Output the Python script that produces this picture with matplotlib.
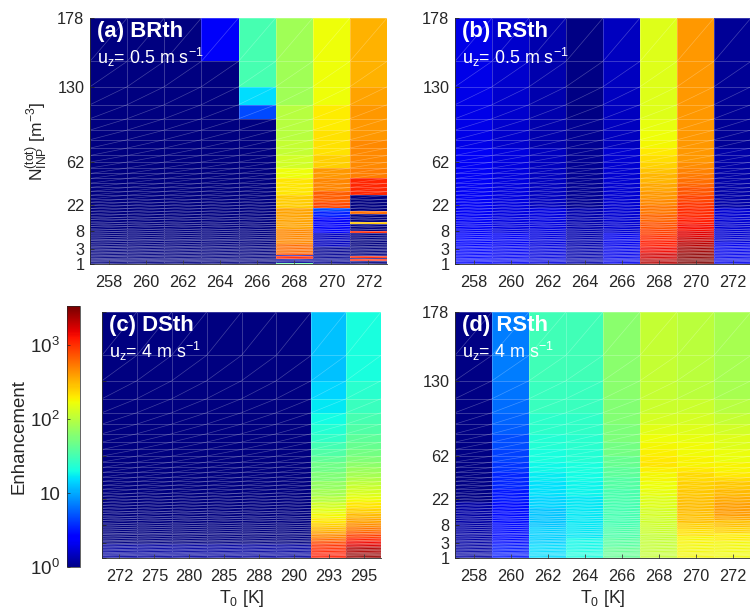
import numpy as np
import matplotlib
matplotlib.use('Agg')
import matplotlib.pyplot as plt
from matplotlib.colors import LogNorm
from matplotlib.collections import LineCollection

plt.rcParams['font.family'] = ['Liberation Sans', 'DejaVu Sans']
plt.rcParams['mathtext.fontset'] = 'custom'
plt.rcParams['mathtext.rm'] = 'Liberation Sans'
plt.rcParams['mathtext.it'] = 'Liberation Sans'
plt.rcParams['mathtext.bf'] = 'Liberation Sans:bold'

# y labels and the grid edge each one sits on (edge 1 = top of the panel)
n_labels = ['178', '130', '62', '22', '8', '3', '1']
n_edges = [1, 3, 10, 20, 30, 40, 51]
n_rows = 50

t_rth = ['258', '260', '262', '264', '266', '268', '270', '272']
t_dsth = ['272', '275', '280', '285', '288', '290', '293', '295']

# each column: (last row of the run, enhancement), rows counted from the top
dark = [(50, 1)]

a_cols = [
    dark, dark, dark,
    [(1, 2.4), (50, 1)],
    [(2, 34), (3, 16), (4, 5), (50, 1)],
    [(3, 84), (6, 105), (8, 118), (10, 135), (12, 182), (16, 225), (20, 280), (28, 400), (36, 500), (42, 640),
     (43, 800), (44, 1.5), (46, 1200), (49, 1.2), (50, 42)],
    [(3, 182), (5, 210), (8, 230), (10, 270), (12, 440), (15, 520), (18, 720), (20, 880),
     (21, 5), (23, 3.5), (30, 2.4), (38, 1.6), (50, 1.15)],
    [(2, 350), (3, 400), (6, 440), (10, 490), (12, 540), (16, 1190), (21, 1), (22, 650), (25, 1), (26, 300),
     (29, 1), (30, 1200), (44, 1), (45, 1200), (46, 1), (48, 1300), (50, 1)],
]

b_cols = [
    [(7, 2.1), (30, 2.3), (50, 2.8)],
    [(7, 1.75), (30, 1.95), (50, 2.3)],
    [(7, 1.4), (20, 1.6), (50, 2)],
    [(4, 1.05), (20, 1.15), (50, 1.4)],
    [(7, 1.6), (30, 1.8), (50, 2.2)],
    [(4, 155), (5, 170), (6, 182), (7, 190), (8, 215), (9, 240), (10, 265), (11, 295), (13, 340), (15, 390),
     (17, 440), (19, 500), (22, 580), (25, 680), (28, 800), (31, 950), (34, 1100), (38, 1300), (42, 1500),
     (46, 1900), (50, 2300)],
    [(9, 442), (10, 480), (11, 530), (12, 570), (13, 620), (14, 680), (16, 780), (18, 900), (20, 1020),
     (23, 1150), (26, 1300), (29, 1450), (32, 1700), (35, 2000), (38, 2300), (42, 2700), (46, 3000), (50, 3300)],
    [(7, 1.2), (20, 1.35), (35, 1.8), (50, 2.2)],
]

c_cols = [
    [(40, 1), (50, 1.25)], [(40, 1), (50, 1.25)], [(40, 1), (50, 1.25)],
    [(40, 1), (50, 1.25)], [(40, 1), (50, 1.25)], [(40, 1), (50, 1.25)],
    [(2, 13), (3, 15), (4, 18), (5, 21), (6, 24), (7, 28), (8, 33), (9, 38), (10, 44), (12, 52), (14, 62),
     (16, 74), (18, 88), (20, 104), (22, 135), (24, 165), (26, 190), (28, 225), (30, 270), (32, 330), (34, 400),
     (36, 500), (38, 640), (40, 850), (43, 1050), (46, 1200), (50, 1300)],
    [(2, 22), (3, 26), (4, 30), (5, 34), (6, 38), (7, 43), (8, 48), (9, 54), (10, 62), (11, 70), (12, 78),
     (13, 88), (14, 100), (15, 112), (16, 126), (17, 140), (18, 155), (19, 170), (20, 190), (22, 225), (24, 270),
     (26, 330), (28, 400), (30, 480), (32, 590), (34, 740), (36, 950), (38, 1200), (40, 1500), (42, 1800),
     (46, 2400), (50, 2900)],
]

d_cols = [
    [(20, 1.05), (50, 1.3)],
    [(2, 7.4), (3, 7), (4, 6.6), (5, 6.2), (6, 5.8), (8, 5.2), (10, 4.6), (12, 4.2), (16, 3.7), (20, 3.3),
     (40, 3), (50, 3.3)],
    [(2, 32), (4, 30), (6, 27), (8, 24), (10, 22), (12, 20), (14, 18.5), (18, 16.5), (22, 15), (30, 13.5),
     (40, 14.5), (50, 16)],
    [(2, 32), (4, 30), (6, 28), (8, 26), (10, 24), (12, 22), (14, 21), (18, 19.5), (24, 18), (36, 18),
     (44, 20), (50, 22)],
    [(3, 68), (5, 64), (7, 60), (9, 54), (11, 48), (13, 43), (16, 39), (20, 36), (30, 34), (36, 37),
     (42, 41), (50, 46)],
    [(3, 118), (4, 125), (5, 140), (6, 160), (7, 178), (8, 190), (9, 205), (10, 220), (11, 225), (12, 205),
     (14, 190), (16, 180), (18, 170), (22, 155), (26, 140), (30, 130), (34, 125), (50, 120)],
    [(3, 110), (4, 125), (5, 140), (6, 155), (7, 170), (9, 185), (11, 198), (12, 215), (14, 245), (16, 270),
     (18, 290), (20, 305), (24, 320), (28, 310), (31, 270), (35, 235), (40, 200), (50, 190)],
    [(3, 90), (4, 105), (5, 120), (6, 135), (8, 155), (10, 175), (12, 195), (13, 220), (14, 250), (16, 290),
     (18, 330), (20, 370), (22, 410), (25, 430), (27, 380), (30, 310), (33, 260), (38, 210), (44, 190), (50, 185)],
]

W, H = 750, 608
ink = '#262626'
norm = LogNorm(vmin=1, vmax=3400)


def box(left, top, right, bottom):
    return [left / W, 1 - bottom / H, (right - left) / W, (bottom - top) / H]


def expand(col):
    vals = np.zeros(n_rows)
    start = 0
    for end, v in col:
        vals[start:end] = v
        start = end
    return vals


def panel(rect, cols, xlabels, title, speed, left_labels=True, xlabel=False):
    ax = fig.add_axes(box(*rect))
    z = np.array([expand(c) for c in cols]).T
    xe = np.arange(len(cols) + 1)
    ye = np.arange(n_rows + 1) + 1
    m = ax.pcolormesh(xe, ye, z, cmap='jet', norm=norm, edgecolors=(1, 1, 1, 0.22), linewidth=0.5)
    # every cell has a diagonal, left-bottom to right-top
    segs = [[(x, y + 1), (x + 1, y)] for x in xe[:-1] for y in ye[:-1]]
    ax.add_collection(LineCollection(segs, colors=[(1, 1, 1, 0.26)], linewidths=0.5))
    ax.set_yscale('log')
    ax.set_xlim(xe[0], xe[-1])
    ax.set_ylim(ye[-1], ye[0])
    ax.set_xticks(xe[:-1] + 0.5)
    ax.set_xticklabels(xlabels)
    ax.set_yticks(n_edges)
    ax.set_yticklabels(n_labels if left_labels else [])
    ax.minorticks_off()
    ax.tick_params(axis='x', direction='in', length=3, width=0.6, color=ink, labelcolor=ink, labelsize=11.7, pad=8)
    ax.tick_params(axis='y', direction='in', length=3, width=0.6, color=ink, labelcolor=ink, labelsize=11.7, pad=4)
    for s in ['top', 'right']:
        ax.spines[s].set_visible(False)
    for s in ['left', 'bottom']:
        ax.spines[s].set_linewidth(0.6)
        ax.spines[s].set_color(ink)
    ax.text(7 / (rect[2] - rect[0]), 1 - 14 / (rect[3] - rect[1]), title, transform=ax.transAxes, color='white',
            fontsize=15.9, fontweight='bold', va='center', ha='left')
    ax.text(7 / (rect[2] - rect[0]), 1 - 39 / (rect[3] - rect[1]), 'u$_{z}$= ' + speed + ' m s$^{-1}$',
            transform=ax.transAxes, color='white', fontsize=12.9, va='center', ha='left')
    if xlabel:
        ax.set_xlabel('T$_{0}$ [K]', fontsize=12.7, color=ink, labelpad=3)
    return m


fig = plt.figure(figsize=(W / 100, H / 100), dpi=100)

m = panel((90, 18, 387, 264), a_cols, t_rth, '(a) BRth', '0.5')
panel((455, 18, 751, 264), b_cols, t_rth, '(b) RSth', '0.5')
panel((102, 312, 381, 558), c_cols, t_dsth, '(c) DSth', '4', left_labels=False, xlabel=True)
panel((455, 312, 751, 558), d_cols, t_rth, '(d) RSth', '4', xlabel=True)

fig.text(37 / W, 1 - 141 / H, 'N$_{INP}^{(tot)}$ [m$^{-3}$]', rotation=90, fontsize=12.5, color=ink,
         ha='center', va='center')

cax = fig.add_axes(box(67, 306, 80, 567))
cb = fig.colorbar(m, cax=cax, ticklocation='left')
cb.solids.set_edgecolor('face')
cb.set_ticks([1, 10, 100, 1000])
cb.set_ticklabels(['10$^{0}$', '10', '10$^{2}$', '10$^{3}$'])
cb.minorticks_off()
cb.ax.tick_params(direction='in', length=2, width=0.5, color=ink, labelcolor=ink, labelsize=13.5, pad=5)
cb.outline.set_linewidth(0.5)
cb.outline.set_edgecolor(ink)
fig.text(19 / W, 1 - 437 / H, 'Enhancement', rotation=90, fontsize=13.4, color=ink, ha='center', va='center')

fig.savefig('out.png', dpi=100)
